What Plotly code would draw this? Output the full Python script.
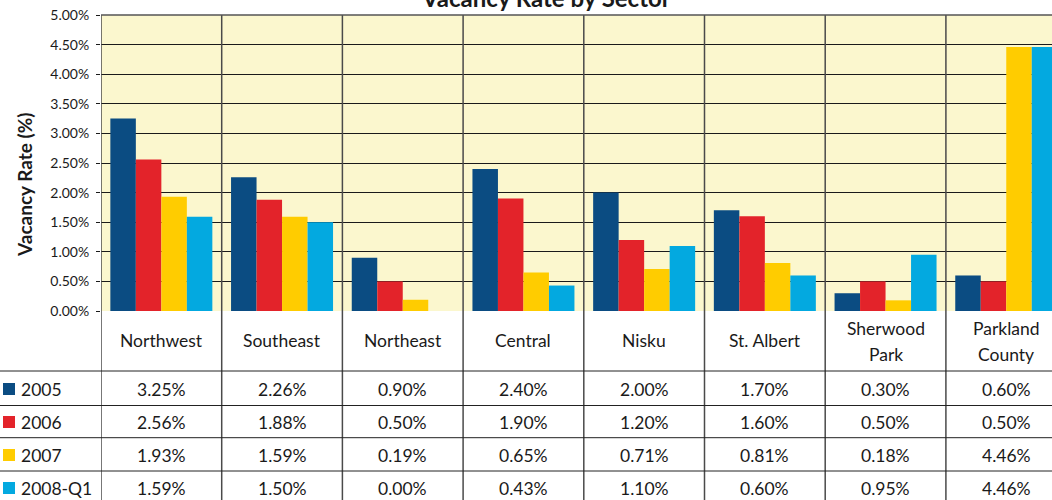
import plotly.graph_objects as go

categories = ["Northwest", "Southeast", "Northeast", "Central", "Nisku",
              "St. Albert", "Sherwood Park", "Parkland County"]
header_lines = [["Northwest"], ["Southeast"], ["Northeast"], ["Central"], ["Nisku"],
                ["St. Albert"], ["Sherwood", "Park"], ["Parkland", "County"]]
series_names = ["2005", "2006", "2007", "2008-Q1"]
v2005 = [3.25, 2.26, 0.90, 2.40, 2.00, 1.70, 0.30, 0.60]
v2006 = [2.56, 1.88, 0.50, 1.90, 1.20, 1.60, 0.50, 0.50]
v2007 = [1.93, 1.59, 0.19, 0.65, 0.71, 0.81, 0.18, 4.46]
v2008q1 = [1.59, 1.50, 0.00, 0.43, 1.10, 0.60, 0.95, 4.46]
series_values = [v2005, v2006, v2007, v2008q1]
colors = ["#0B4C82", "#E3232A", "#FFCC00", "#03A9E0"]
yticks = [0, 0.5, 1, 1.5, 2, 2.5, 3, 3.5, 4, 4.5, 5]
ytick_text = [f"{v:.2f}%" for v in yticks]

FONT = "Lato"
TXT = "#1a1a1a"
W, H = 1052, 500
L, T, B = 101, 15, 311
PW, PH = W - L, B - T
CATW = 120.7


def py(p):
    return (B - p) / PH


def pxp(p):
    return (p - L) / PW


fig = go.Figure()
x_idx = list(range(len(categories)))
for name, vals, c in zip(series_names, series_values, colors):
    fig.add_trace(go.Bar(x=x_idx, y=vals, name=name, marker=dict(color=c, line=dict(width=0)),
                         hoverinfo="skip"))

shapes = []
annotations = []
# vertical category separators
for i in range(len(categories)):
    shapes.append(dict(type="line", xref="x", yref="paper", x0=i + 0.5, x1=i + 0.5,
                       y0=1, y1=py(510), line=dict(color="#4a4a4a", width=1.5), layer="above"))
# left axis line through table
shapes.append(dict(type="line", xref="x", yref="paper", x0=-0.5, x1=-0.5,
                   y0=1, y1=py(510), line=dict(color="#4a4a4a", width=1.5), layer="above"))
# top border
shapes.append(dict(type="line", xref="x", yref="paper", x0=-0.5, x1=9,
                   y0=1, y1=1, line=dict(color="#555", width=1.5), layer="above"))
# table horizontal lines
row_lines = [371, 405.5, 437.7, 471]
for yl in row_lines:
    shapes.append(dict(type="line", xref="paper", yref="paper", x0=pxp(0), x1=1.05,
                       y0=py(yl), y1=py(yl), line=dict(color="#222", width=1)))
# header labels
for i, lines in enumerate(header_lines):
    if len(lines) == 1:
        annotations.append(dict(x=i, y=py(340), xref="x", yref="paper", text=lines[0],
                                showarrow=False, font=dict(family=FONT, size=17.5, color=TXT),
                                xanchor="center", yanchor="middle"))
    else:
        for ln, yy in zip(lines, [328, 354]):
            annotations.append(dict(x=i, y=py(yy), xref="x", yref="paper", text=ln,
                                    showarrow=False, font=dict(family=FONT, size=17.5, color=TXT),
                                    xanchor="center", yanchor="middle"))
# table rows
row_centers = [389, 422, 455, 488]
for name, vals, c, yc in zip(series_names, series_values, colors, row_centers):
    shapes.append(dict(type="rect", xref="paper", yref="paper", x0=pxp(3), x1=pxp(15),
                       y0=py(yc + 6), y1=py(yc - 6), fillcolor=c, line=dict(width=0)))
    annotations.append(dict(x=pxp(19), y=py(yc), xref="paper", yref="paper", text=name,
                            showarrow=False, font=dict(family=FONT, size=17.5, color=TXT),
                            xanchor="left", yanchor="middle"))
    for i, v in enumerate(vals):
        annotations.append(dict(x=i, y=py(yc), xref="x", yref="paper", text=f"{v:.2f}%",
                                showarrow=False, font=dict(family=FONT, size=17.5, color=TXT),
                                xanchor="center", yanchor="middle"))
# title
annotations.append(dict(x=pxp(546), y=py(-3), xref="paper", yref="paper",
                        text="<b>Vacancy Rate by Sector</b>", showarrow=False,
                        font=dict(family=FONT, size=24, color=TXT),
                        xanchor="center", yanchor="middle"))
# y-axis title
annotations.append(dict(x=pxp(24), y=py(185), xref="paper", yref="paper",
                        text="<b>Vacancy Rate (%)</b>", textangle=-90, showarrow=False,
                        font=dict(family=FONT, size=19, color=TXT),
                        xanchor="center", yanchor="middle"))

fig.update_layout(
    width=W, height=H,
    margin=dict(l=L, r=0, t=T, b=H - B, pad=0),
    paper_bgcolor="white",
    plot_bgcolor="#FBF7CE",
    barmode="group", bargap=0.155, bargroupgap=0,
    showlegend=False,
    shapes=shapes, annotations=annotations,
    font=dict(family=FONT, color=TXT),
    xaxis=dict(range=[-0.5, -0.5 + PW / CATW], showticklabels=False, showgrid=False,
               zeroline=False, showline=False, ticks="", fixedrange=True),
    yaxis=dict(range=[0, 5], tickvals=yticks, ticktext=ytick_text, showgrid=True,
               gridcolor="#1a1a1a", gridwidth=1, zeroline=False, showline=False,
               ticks="outside", ticklen=4, tickcolor="#1a1a1a", tickwidth=1,
               ticklabelstandoff=4,
               tickfont=dict(family=FONT, size=14, color=TXT), fixedrange=True),
)

fig.write_html("out.html", config={"displayModeBar": False},
               post_script="document.body.style.margin='0';document.body.style.overflow='hidden';")
